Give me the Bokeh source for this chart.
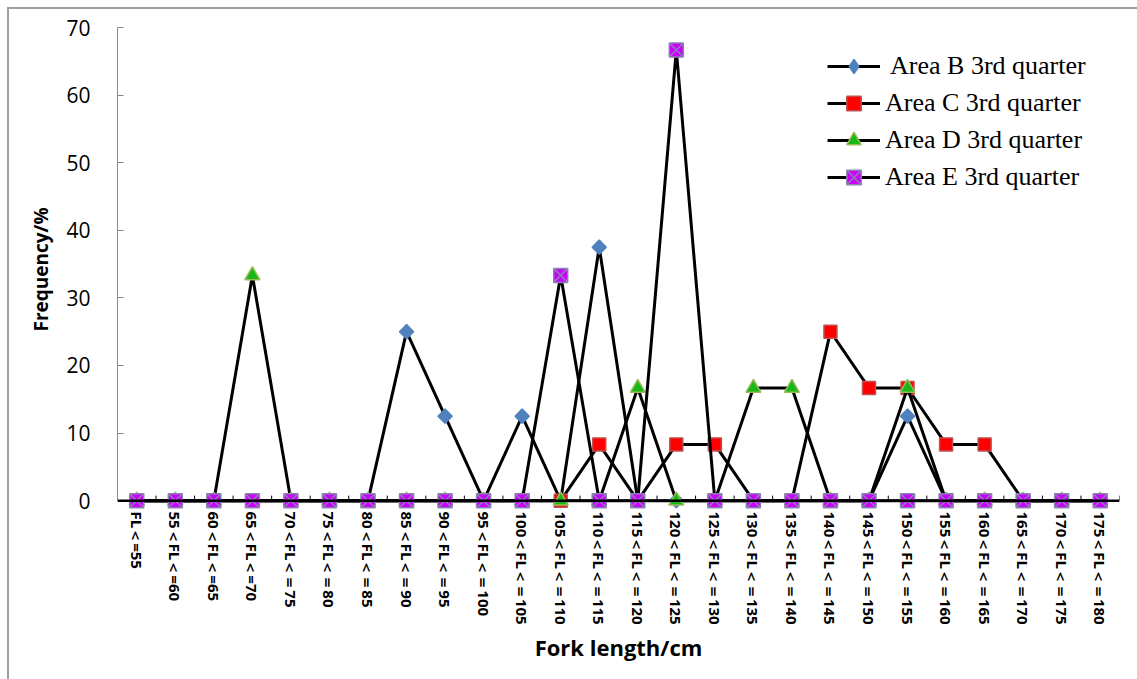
from bokeh.plotting import figure
from bokeh.models import Range1d, FixedTicker, Legend, LegendItem, Span
from bokeh.embed import file_html
from bokeh.resources import INLINE

# Fork-length classes (tick labels)
categories = [
    "FL＜=55", "55＜FL＜=60", "60＜FL＜=65", "65＜FL＜=70",
    "70＜FL＜＝75", "75＜FL＜＝80", "80＜FL＜＝85", "85＜FL＜＝90",
    "90＜FL＜＝95", "95＜FL＜＝100", "100＜FL＜＝105", "105＜FL＜＝110",
    "110＜FL＜＝115", "115＜FL＜＝120", "120＜FL＜＝125", "125＜FL＜＝130",
    "130＜FL＜＝135", "135＜FL＜＝140", "140＜FL＜＝145", "145＜FL＜＝150",
    "150＜FL＜＝155", "155＜FL＜＝160", "160＜FL＜＝165", "165＜FL＜＝170",
    "170＜FL＜＝175", "175＜FL＜＝180",
]

# Frequency (%) per class
area_b = [0, 0, 0, 0, 0, 0, 0, 25, 12.5, 0, 12.5, 0, 37.5, 0, 0, 0,
          0, 0, 0, 0, 12.5, 0, 0, 0, 0, 0]
area_c = [0, 0, 0, 0, 0, 0, 0, 0, 0, 0, 0, 0, 8.33, 0, 8.33, 8.33,
          0, 0, 25, 16.67, 16.67, 8.33, 8.33, 0, 0, 0]
area_d = [0, 0, 0, 33.33, 0, 0, 0, 0, 0, 0, 0, 0, 0, 16.67, 0, 0,
          16.67, 16.67, 0, 0, 16.67, 0, 0, 0, 0, 0]
area_e = [0, 0, 0, 0, 0, 0, 0, 0, 0, 0, 0, 33.33, 0, 0, 66.67, 0,
          0, 0, 0, 0, 0, 0, 0, 0, 0, 0]

series_names = [" Area B 3rd quarter", "Area C 3rd quarter",
                "Area D 3rd quarter", "Area E 3rd quarter"]

positions = list(range(len(categories)))

p = figure(
    width=1137, height=679,
    x_range=Range1d(-0.5, len(categories) - 0.5),
    y_range=Range1d(-1.6, 70),
    output_backend="svg", toolbar_location=None,
    min_border_left=117, min_border_right=18,
    min_border_top=27, min_border_bottom=168,
)
p.xgrid.visible = False
p.ygrid.visible = False
p.outline_line_color = None
# transparent canvas so the host's framing lines show through
p.background_fill_color = None
p.border_fill_color = None
p.styles = {
    "background": "linear-gradient(#A0A0A0, #A0A0A0) 7px 7px / 100% 2px no-repeat, "
                  "linear-gradient(#A0A0A0, #A0A0A0) 7px 7px / 2px 100% no-repeat, white",
}

# y axis
yax = p.yaxis[0]
yax.ticker = FixedTicker(ticks=list(range(0, 71, 10)), minor_ticks=[])
yax.bounds = (0, 70)
yax.axis_line_color = "#868686"
yax.major_tick_line_color = "#868686"
yax.major_tick_in = 6
yax.major_tick_out = 0
yax.minor_tick_line_color = None
yax.major_label_text_font = "Open Sans"
yax.major_label_text_font_size = "21px"
yax.major_label_text_color = "black"
yax.major_label_standoff = 27
yax.axis_label = "Frequency/%"
yax.axis_label_text_font = "Open Sans"
yax.axis_label_text_font_style = "bold"
yax.axis_label_text_font_size = "19px"
yax.axis_label_text_color = "black"
yax.axis_label_standoff = 9

# x axis (category labels)
xax = p.xaxis[0]
xax.ticker = FixedTicker(ticks=positions, minor_ticks=[])
xax.major_label_overrides = {i: c for i, c in zip(positions, categories)}
xax.axis_line_color = None
xax.major_tick_line_color = None
xax.major_tick_in = 0
xax.major_tick_out = 0
xax.minor_tick_line_color = None
xax.major_label_orientation = "vertical"
xax.major_label_standoff = 0
xax.major_label_text_font = "Open Sans"
xax.major_label_text_font_style = "bold"
xax.major_label_text_font_size = "15px"
xax.major_label_text_color = "black"
xax.axis_label = "Fork length/cm"
xax.axis_label_text_font = "Open Sans"
xax.axis_label_text_font_style = "bold"
xax.axis_label_text_font_size = "22px"
xax.axis_label_text_color = "black"
xax.axis_label_standoff = 4

# baseline at zero and class-boundary ticks
p.add_layout(Span(location=0, dimension="width", line_color="black", line_width=2.5))
bounds = [i + 0.5 for i in positions]
p.segment(x0=bounds, y0=[0] * len(bounds), x1=bounds, y1=[0.75] * len(bounds),
          line_color="black", line_width=1)

styles = [
    dict(marker="square", angle=0.785398, size=10, fill_color="#4F81BD", line_color="#4F81BD"),
    dict(marker="square", angle=0, size=13, fill_color="#FF0000", line_color="#C0504D"),
    dict(marker="triangle", angle=0, size=15, fill_color="#17B817", line_color="#9BBB59"),
    dict(marker="square_x", angle=0, size=14, fill_color="#CC00FF", line_color="#8A7FB0"),
]
legend_markers = ["diamond", "square", "triangle", "square_x"]

items = []
for name, vals, st, lm in zip(series_names, [area_b, area_c, area_d, area_e],
                              styles, legend_markers):
    lr = p.line(positions, vals, line_color="black", line_width=3)
    mr = p.scatter(positions, vals, marker=st["marker"], angle=st["angle"],
                   size=st["size"], fill_color=st["fill_color"],
                   line_color=st["line_color"], line_width=1.5)
    # hidden copy used only as the legend swatch
    sw = p.scatter(positions, vals, marker=lm, size=st["size"],
                   fill_color=st["fill_color"], line_color=st["line_color"],
                   line_width=1.5, visible=False)
    items.append(LegendItem(label=name, renderers=[lr, sw]))

legend = Legend(
    items=items, location=(710, 316),
    border_line_color=None, background_fill_alpha=0,
    label_text_font="Liberation Serif", label_text_font_size="26px",
    label_text_color="black",
    glyph_width=53, glyph_height=36, label_height=36,
    label_standoff=5, spacing=1, padding=0, margin=0,
)
p.add_layout(legend)

open("out.html", "w").write(file_html(p, INLINE))
